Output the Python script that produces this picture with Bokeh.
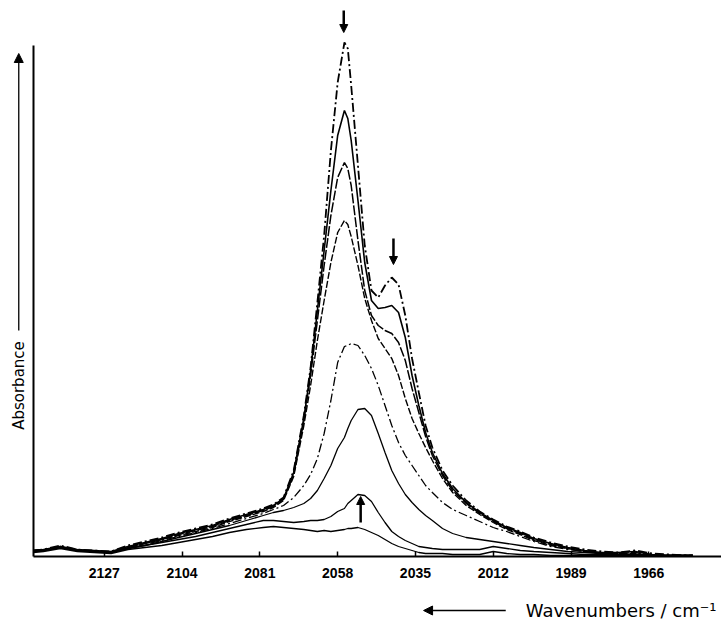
from math import pi
from bokeh.plotting import figure
from bokeh.models import Range1d, FixedTicker, Label, Arrow, NormalHead
from bokeh.embed import file_html
from bokeh.resources import INLINE

# ---- data (absorbance in arbitrary units) ----
wavenumbers = [2148, 2145, 2140, 2135, 2130, 2125, 2120, 2115, 2110, 2105,
               2100, 2095, 2090, 2085, 2080, 2077, 2074, 2071, 2068, 2066,
               2064, 2062, 2060, 2058, 2056, 2055, 2054, 2052, 2050, 2048,
               2046, 2044, 2042, 2040, 2038, 2036, 2034, 2032, 2030, 2027,
               2024, 2020, 2016, 2012, 2008, 2004, 2000, 1995, 1990, 1985,
               1980, 1975, 1970, 1965, 1960, 1955, 1953]

spec1 = [6, 7, 11, 7, 6, 5, 11, 15, 19, 24, 28, 32, 38, 43, 48,
         52, 59, 86, 141, 189, 254, 321, 406, 474, 514, 508, 471, 391, 311, 266,
         259, 271, 279, 272, 241, 198, 164, 131, 109, 86, 71, 56, 45, 37, 30,
         25, 19, 14, 10, 7, 5, 4, 6, 3, 2, 1, 1]
spec2 = [6, 7, 10, 7, 6, 5, 10, 14, 18, 23, 27, 31, 37, 42, 47,
         51, 58, 84, 138, 186, 246, 306, 366, 421, 446, 438, 416, 356, 294, 256,
         248, 249, 251, 244, 219, 181, 151, 124, 104, 83, 68, 54, 44, 36, 29,
         24, 18, 13, 9, 6, 4, 4, 5, 2, 1, 1, 1]
spec3 = [5, 6, 10, 6, 5, 4, 9, 13, 17, 22, 26, 30, 36, 41, 46,
         50, 57, 82, 136, 181, 236, 291, 341, 379, 394, 388, 371, 316, 266, 241,
         231, 226, 223, 214, 196, 168, 144, 120, 101, 81, 66, 53, 43, 35, 28,
         23, 17, 12, 8, 5, 3, 3, 4, 1, 1, 1, 1]
spec4 = [5, 6, 9, 6, 5, 4, 9, 13, 17, 21, 25, 29, 35, 40, 45,
         49, 56, 80, 131, 171, 216, 256, 294, 324, 336, 332, 320, 291, 258, 236,
         218, 208, 198, 181, 158, 138, 123, 109, 96, 78, 64, 51, 42, 34, 27,
         22, 16, 11, 8, 5, 3, 3, 3, 1, 1, 1, 1]
spec5 = [6, 7, 10, 6, 5, 4, 8, 12, 16, 20, 24, 28, 33, 38, 43,
         47, 51, 59, 71, 82, 98, 123, 156, 194, 210, 211, 213, 211, 201, 188,
         171, 151, 131, 114, 101, 91, 81, 71, 64, 54, 47, 41, 35, 29, 25,
         20, 15, 10, 7, 5, 3, 2, 2, 1, 1, 1, 1]
spec6 = [5, 6, 9, 6, 5, 4, 8, 11, 15, 19, 23, 27, 31, 36, 41,
         44, 46, 49, 53, 58, 66, 78, 91, 108, 119, 128, 136, 147, 148, 141,
         123, 104, 86, 73, 62, 54, 47, 41, 36, 28, 23, 19, 17, 15, 13,
         11, 9, 7, 5, 4, 3, 2, 2, 1, 1, 1, 1]
spec7 = [5, 6, 9, 6, 5, 4, 8, 11, 14, 17, 20, 24, 28, 32, 36,
         36, 35, 34, 35, 36, 36, 37, 40, 45, 48, 53, 56, 62, 61, 55,
         44, 34, 25, 20, 16, 13, 10, 9, 8, 7, 7, 7, 7, 10, 8,
         6, 5, 4, 3, 2, 2, 1, 1, 1, 1, 1, 1]
spec8 = [4, 5, 8, 5, 4, 3, 7, 9, 11, 14, 17, 20, 24, 27, 29,
         30, 29, 28, 27, 26, 25, 26, 25, 26, 27, 28, 28, 29, 27, 24,
         21, 17, 13, 10, 8, 6, 4, 3, 3, 3, 2, 2, 2, 5, 3,
         2, 2, 1, 1, 1, 1, 1, 1, 1, 1, 1, 1]

tick_values = [2127, 2104, 2081, 2058, 2035, 2012, 1989, 1966]

spectra = [spec1, spec2, spec3, spec4, spec5, spec6, spec7, spec8]
dashes = ["9 3 2 3", "solid", "10 2", "7 2", "9 3 2 3", "solid", "solid", "solid"]
widths = [1.8, 1.6, 1.5, 1.4, 1.3, 1.3, 1.3, 1.3]

# arrows marking the trend (wavenumber, absorbance start, absorbance end)
arrow_marks = [(2056.2, 546, 524), (2041.5, 318, 292), (2051.2, 34, 60)]

x_axis_start, x_axis_end = 2147.9, 1944.5
y_axis_top = 511

p = figure(width=721, height=623,
           x_range=Range1d(2157.7, 1944.5), y_range=Range1d(-67, 556),
           output_backend="svg", toolbar_location=None,
           min_border_left=0, min_border_right=0,
           min_border_top=0, min_border_bottom=0)
p.outline_line_color = None
p.grid.visible = False
p.background_fill_color = "white"
p.border_fill_color = "white"

for s, d, w in zip(spectra, dashes, widths):
    p.line(wavenumbers, s, line_color="black", line_width=w, line_dash=d)

for wx, y0, y1 in arrow_marks:
    p.add_layout(Arrow(end=NormalHead(size=8, fill_color="black", line_color="black"),
                       x_start=wx, y_start=y0, x_end=wx, y_end=y1,
                       line_width=2.5, line_color="black"))

xa = p.xaxis[0]
xa.fixed_location = 0
xa.bounds = (x_axis_end, x_axis_start)
xa.ticker = FixedTicker(ticks=tick_values)
xa.axis_line_width = 2
xa.major_tick_in = 5
xa.major_tick_out = 0
xa.major_tick_line_width = 1.5
xa.minor_tick_line_color = None
xa.major_label_standoff = 11
xa.major_label_text_font = "Liberation Sans"
xa.major_label_text_font_style = "bold"
xa.major_label_text_font_size = "14px"
xa.major_label_text_color = "black"

ya = p.yaxis[0]
ya.fixed_location = x_axis_start
ya.ticker = FixedTicker(ticks=[])
ya.bounds = (0, y_axis_top)
ya.axis_line_width = 2
ya.minor_tick_line_color = None
ya.major_tick_line_color = None

# y axis caption with upward arrow
p.add_layout(Label(x=2152.3, y=171, text="Absorbance", angle=pi / 2,
                   text_align="center", text_baseline="middle",
                   text_font="DejaVu Sans", text_font_size="15px", text_color="black"))
p.add_layout(Arrow(end=NormalHead(size=9, fill_color="black", line_color="black"),
                   x_start=2152.3, y_start=226, x_end=2152.3, y_end=503,
                   line_width=1.3, line_color="black"))

# x axis caption with leftward arrow
p.add_layout(Arrow(end=NormalHead(size=9, fill_color="black", line_color="black"),
                   x_start=2008.3, y_start=-54, x_end=2032.6, y_end=-54,
                   line_width=1.5, line_color="black"))
p.add_layout(Label(x=1946.0, y=-54, text="Wavenumbers / cm\u207b\u00b9",
                   text_align="right", text_baseline="middle",
                   text_font="DejaVu Sans", text_font_size="18px", text_color="black"))

open("out.html", "w").write(file_html(p, INLINE))
